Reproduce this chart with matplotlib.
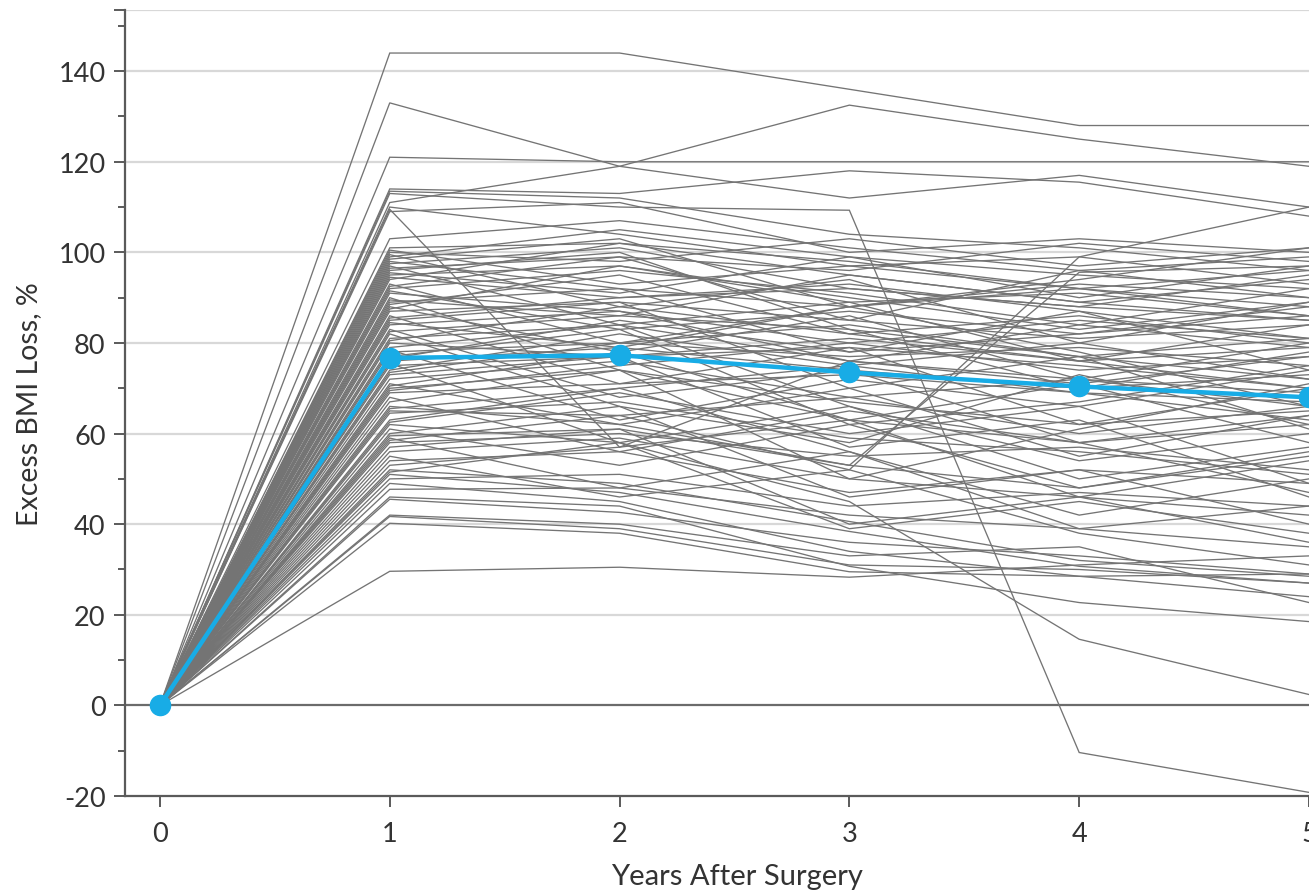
import matplotlib
matplotlib.use("Agg")
import matplotlib.pyplot as plt
from matplotlib.ticker import MultipleLocator

plt.rcParams['font.family'] = ['Lato', 'DejaVu Sans']

years = [0, 1, 2, 3, 4, 5]

# individual patients: excess BMI loss (%) at years 1..5 (0 at year 0)
patients = [
    [144, 144, 136, 128, 128],
    [133, 119, 112, 117, 110],
    [121, 120, 120, 120, 120],
    [111, 119, 132.5, 125, 119],
    [114, 113, 118, 115.5, 108],
    [113, 110, 109.3, -10.4, -19.2],
    [113.5, 112, 104, 101, 96],
    [109.5, 57, 76, 72, 66],
    [110, 104, 97, 92, 88],
    [109, 111, 100, 103, 100],
    [103, 107, 101, 96, 99],
    [101, 102, 95, 89, 85],
    [100, 98, 103, 97, 101],
    [99.5, 88, 94, 80, 89],
    [99, 105, 99, 95, 92],
    [98, 92, 78, 87, 74],
    [97.5, 101, 92, 88, 95],
    [97, 84, 89, 76, 84],
    [96.5, 99, 96, 102, 98],
    [96, 100, 83, 70, 78],
    [95, 97, 89, 91, 86],
    [94.5, 90, 93, 87, 81],
    [94, 102, 98, 92, 96],
    [93, 80, 88, 78, 66],
    [92, 96, 91, 84, 79],
    [91.5, 83, 87, 82, 88],
    [91, 87, 76, 84, 92],
    [90, 74, 63, 71, 58],
    [89, 92, 88, 93, 90],
    [88.5, 95, 82, 76, 79],
    [88, 78, 86, 72, 80],
    [87, 89, 85, 81, 84],
    [86, 71, 79, 62, 70],
    [85.5, 90, 92, 88, 85],
    [85, 89, 70, 77, 61],
    [84, 87, 80, 85, 81],
    [83, 68, 74, 58, 64],
    [82.5, 86, 83, 77, 72],
    [82, 66, 58, 73, 62],
    [81, 84, 76, 71, 77],
    [80, 77, 81, 76, 70],
    [79, 84, 66, 54, 60],
    [78.5, 63, 72, 66, 49],
    [78, 80, 77, 79, 75],
    [77, 83, 62, 67, 75],
    [76, 79, 74, 70, 73],
    [75.5, 58, 66, 50, 57],
    [75, 77, 79, 75, 70],
    [74, 82, 75, 69, 67],
    [73, 77, 57, 63, 46],
    [72, 76, 68, 72, 69],
    [71, 62, 70, 55, 64],
    [70.5, 78, 63, 46, 54],
    [70, 74, 67, 62, 65],
    [69, 71, 73, 69, 63],
    [68, 56, 65, 58, 47],
    [67, 74, 50, 61, 71],
    [66, 62, 53, 95.6, 97],
    [65, 64, 52, 99, 110],
    [64.5, 67, 59, 56, 51],
    [63, 70, 56, 42, 50],
    [62, 58, 45, 14.6, 2.4],
    [61, 53, 62, 48, 56],
    [60, 66, 46, 52, 40],
    [59.5, 61, 53, 48, 55],
    [59, 48, 56, 39, 44],
    [58, 60, 55, 57, 52],
    [57, 61, 40, 46, 36],
    [56, 59, 50, 46, 42],
    [55, 46, 52, 38, 31],
    [54, 56, 47, 52, 49],
    [52, 49, 40.6, 32, 28.5],
    [51.5, 58, 39, 45, 38],
    [51, 47, 38.4, 30.7, 27],
    [50, 51, 44, 47, 44],
    [49, 45, 34, 28.5, 24],
    [47.7, 48, 42, 39, 35],
    [46, 44, 30.7, 22.7, 18.5],
    [45.5, 42.6, 36, 33, 29],
    [42, 40, 33, 35, 22.7],
    [41.7, 39, 31, 30, 27],
    [40.2, 38, 29.5, 28.5, 29],
    [29.6, 30.5, 28.3, 31, 33],
    [100.5, 93, 97, 99, 93],
    [98.5, 103, 88, 94, 101],
    [95.5, 91, 99, 90, 97],
    [92.5, 99, 85, 96, 90],
    [89.5, 86, 95, 89, 94],
    [87.5, 97, 90, 83, 89],
    [84.5, 79, 88, 92, 86],
    [80.5, 88, 82, 86, 80],
    [76.5, 85, 78, 82, 86],
    [73.5, 80, 84, 77, 81],
    [69.5, 75, 80, 74, 77],
    [65.5, 70, 75, 80, 72],
    [62.5, 69, 60, 66, 74],
    [58.5, 64, 68, 60, 66],
    [53, 57, 63, 58, 62],
]

mean_loss = [0, 76.7, 77.3, 73.5, 70.4, 68.0]

y_ticks = [-20, 0, 20, 40, 60, 80, 100, 120, 140]
x_ticks = [0, 1, 2, 3, 4, 5]

fig = plt.figure(figsize=(13.09, 8.95), dpi=100)
ax = fig.add_axes([125/1309, 98/895, 1 - 125/1309, (797 - 11)/895])

ymax = 153.5
ax.set_xlim(-0.152, 5.0)
ax.set_ylim(-20, ymax)

grid_c = '#d8d8d8'
for t in y_ticks[2:] + [ymax]:
    ax.axhline(t, color=grid_c, lw=1.6, zorder=0)
ax.axhline(0, color='#6b6b6b', lw=1.6, zorder=1)

for p in patients:
    ax.plot(years, [0] + p, color='#747474', lw=0.95, zorder=2, solid_joinstyle='miter')

ax.plot(years, mean_loss, color='#18ace6', lw=3.2, marker='o', markersize=14.5,
        zorder=5, clip_on=False)

for s in ['top', 'right']:
    ax.spines[s].set_visible(False)
for s in ['left', 'bottom']:
    ax.spines[s].set_color('#5a5a5a')
    ax.spines[s].set_linewidth(1.6)

ax.set_yticks(y_ticks + [ymax])
ax.set_yticklabels([str(t) for t in y_ticks] + [''])
ax.yaxis.set_minor_locator(MultipleLocator(10))
ax.set_xticks(x_ticks)
ax.set_xticklabels([str(t) for t in x_ticks])

ax.tick_params(axis='both', which='major', length=8, width=1.4, color='#5a5a5a',
               labelsize=19.5, labelcolor='#333333')
ax.tick_params(axis='y', which='minor', length=5, width=1.4, color='#5a5a5a')
ax.tick_params(axis='y', which='major', pad=6)
ax.tick_params(axis='x', which='major', pad=10)

ax.set_xlabel('Years After Surgery', fontsize=21, color='#333333')
ax.xaxis.set_label_coords((737 - 125) / (1309 - 125), -(877 - 797) / 786, transform=ax.transAxes)
ax.xaxis.label.set_va('center')
ax.set_ylabel('Excess BMI Loss, %', fontsize=20.5, color='#333333', labelpad=12)

fig.savefig('out.png', dpi=100)
